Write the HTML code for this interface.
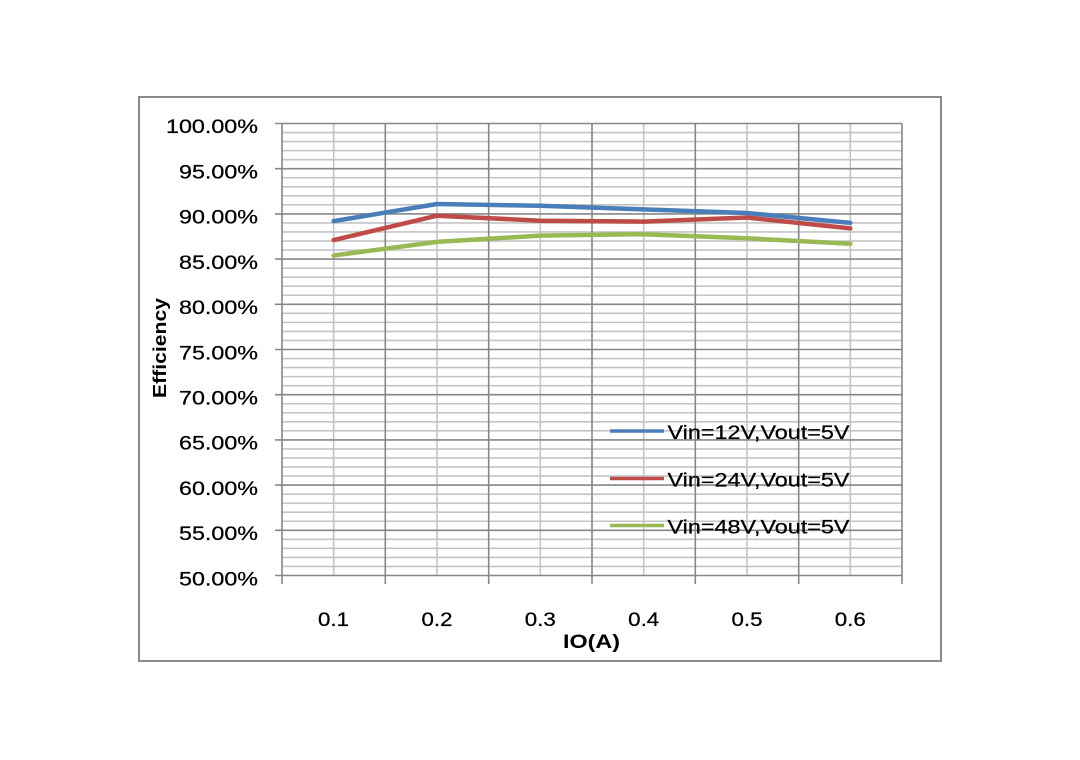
<!DOCTYPE html>
<html><head><meta charset="utf-8"><style>
html,body{margin:0;padding:0;background:#fff;}
svg{display:block;}
text{font-family:"Liberation Sans",Arial,sans-serif;fill:#000;}
</style></head><body>
<svg width="1080" height="760" viewBox="0 0 1080 760" xmlns="http://www.w3.org/2000/svg">
<rect x="0" y="0" width="1080" height="760" fill="#fff"/>
<rect x="139" y="97" width="802" height="564" fill="#fff" stroke="#8a8a8a" stroke-width="2"/>
<g id="grid">
<g stroke="#c4c4c4" stroke-width="1.6">
<line x1="282" x2="902" y1="566.46" y2="566.46"/><line x1="282" x2="902" y1="557.42" y2="557.42"/><line x1="282" x2="902" y1="548.38" y2="548.38"/><line x1="282" x2="902" y1="539.34" y2="539.34"/>
<line x1="282" x2="902" y1="521.26" y2="521.26"/><line x1="282" x2="902" y1="512.22" y2="512.22"/><line x1="282" x2="902" y1="503.18" y2="503.18"/><line x1="282" x2="902" y1="494.14" y2="494.14"/>
<line x1="282" x2="902" y1="476.06" y2="476.06"/><line x1="282" x2="902" y1="467.02" y2="467.02"/><line x1="282" x2="902" y1="457.98" y2="457.98"/><line x1="282" x2="902" y1="448.94" y2="448.94"/>
<line x1="282" x2="902" y1="430.86" y2="430.86"/><line x1="282" x2="902" y1="421.82" y2="421.82"/><line x1="282" x2="902" y1="412.78" y2="412.78"/><line x1="282" x2="902" y1="403.74" y2="403.74"/>
<line x1="282" x2="902" y1="385.66" y2="385.66"/><line x1="282" x2="902" y1="376.62" y2="376.62"/><line x1="282" x2="902" y1="367.58" y2="367.58"/><line x1="282" x2="902" y1="358.54" y2="358.54"/>
<line x1="282" x2="902" y1="340.46" y2="340.46"/><line x1="282" x2="902" y1="331.42" y2="331.42"/><line x1="282" x2="902" y1="322.38" y2="322.38"/><line x1="282" x2="902" y1="313.34" y2="313.34"/>
<line x1="282" x2="902" y1="295.26" y2="295.26"/><line x1="282" x2="902" y1="286.22" y2="286.22"/><line x1="282" x2="902" y1="277.18" y2="277.18"/><line x1="282" x2="902" y1="268.14" y2="268.14"/>
<line x1="282" x2="902" y1="250.06" y2="250.06"/><line x1="282" x2="902" y1="241.02" y2="241.02"/><line x1="282" x2="902" y1="231.98" y2="231.98"/><line x1="282" x2="902" y1="222.94" y2="222.94"/>
<line x1="282" x2="902" y1="204.86" y2="204.86"/><line x1="282" x2="902" y1="195.82" y2="195.82"/><line x1="282" x2="902" y1="186.78" y2="186.78"/><line x1="282" x2="902" y1="177.74" y2="177.74"/>
<line x1="282" x2="902" y1="159.66" y2="159.66"/><line x1="282" x2="902" y1="150.62" y2="150.62"/><line x1="282" x2="902" y1="141.58" y2="141.58"/><line x1="282" x2="902" y1="132.54" y2="132.54"/>
</g>
<g stroke="#c4c4c4" stroke-width="1.6">
<line x1="333.7" x2="333.7" y1="123.5" y2="575.5"/><line x1="437" x2="437" y1="123.5" y2="575.5"/><line x1="540.3" x2="540.3" y1="123.5" y2="575.5"/><line x1="643.7" x2="643.7" y1="123.5" y2="575.5"/><line x1="747" x2="747" y1="123.5" y2="575.5"/><line x1="850.3" x2="850.3" y1="123.5" y2="575.5"/>
</g>
<g stroke="#878787" stroke-width="1.6">
<line x1="275" x2="902" y1="575.5" y2="575.5"/><line x1="275" x2="902" y1="530.3" y2="530.3"/><line x1="275" x2="902" y1="485.1" y2="485.1"/><line x1="275" x2="902" y1="439.9" y2="439.9"/><line x1="275" x2="902" y1="394.7" y2="394.7"/><line x1="275" x2="902" y1="349.5" y2="349.5"/><line x1="275" x2="902" y1="304.3" y2="304.3"/><line x1="275" x2="902" y1="259.1" y2="259.1"/><line x1="275" x2="902" y1="213.9" y2="213.9"/><line x1="275" x2="902" y1="168.7" y2="168.7"/><line x1="275" x2="902" y1="123.5" y2="123.5"/>
</g>
<g stroke="#878787" stroke-width="1.6">
<line x1="282" x2="282" y1="123.5" y2="584"/><line x1="385.3" x2="385.3" y1="123.5" y2="584"/><line x1="488.7" x2="488.7" y1="123.5" y2="584"/><line x1="592" x2="592" y1="123.5" y2="584"/><line x1="695.3" x2="695.3" y1="123.5" y2="584"/><line x1="798.7" x2="798.7" y1="123.5" y2="584"/><line x1="902" x2="902" y1="123.5" y2="584"/>
</g>
</g>
<g fill="none" stroke-width="4.5" stroke-linejoin="round" stroke-linecap="round">
<polyline stroke="#98B954" points="333.7,255.5 437,241.9 540.3,235.6 643.7,234.2 747,238.3 850.3,243.7"/>
<polyline stroke="#BE4B48" points="333.7,240.1 437,215.7 540.3,220.7 643.7,221.6 747,217.5 850.3,228.4"/>
<polyline stroke="#4A7EBB" points="333.7,221.1 437,204.0 540.3,205.8 643.7,209.4 747,213.0 850.3,222.9"/>
</g>
<g font-size="19" stroke="#000" stroke-width="0.25">
<text x="166" y="133" textLength="92" lengthAdjust="spacingAndGlyphs">100.00%</text>
<text x="179" y="178.5" textLength="79" lengthAdjust="spacingAndGlyphs">95.00%</text>
<text x="179" y="223.7" textLength="79" lengthAdjust="spacingAndGlyphs">90.00%</text>
<text x="179" y="268.9" textLength="79" lengthAdjust="spacingAndGlyphs">85.00%</text>
<text x="179" y="314.1" textLength="79" lengthAdjust="spacingAndGlyphs">80.00%</text>
<text x="179" y="359.3" textLength="79" lengthAdjust="spacingAndGlyphs">75.00%</text>
<text x="179" y="404.5" textLength="79" lengthAdjust="spacingAndGlyphs">70.00%</text>
<text x="179" y="449.7" textLength="79" lengthAdjust="spacingAndGlyphs">65.00%</text>
<text x="179" y="494.9" textLength="79" lengthAdjust="spacingAndGlyphs">60.00%</text>
<text x="179" y="540.1" textLength="79" lengthAdjust="spacingAndGlyphs">55.00%</text>
<text x="179" y="585.3" textLength="79" lengthAdjust="spacingAndGlyphs">50.00%</text>
</g>
<g font-size="19" stroke="#000" stroke-width="0.25">
<text x="318" y="626" textLength="31" lengthAdjust="spacingAndGlyphs">0.1</text>
<text x="421.5" y="626" textLength="31" lengthAdjust="spacingAndGlyphs">0.2</text>
<text x="524.8" y="626" textLength="31" lengthAdjust="spacingAndGlyphs">0.3</text>
<text x="628.2" y="626" textLength="31" lengthAdjust="spacingAndGlyphs">0.4</text>
<text x="731.5" y="626" textLength="31" lengthAdjust="spacingAndGlyphs">0.5</text>
<text x="834.8" y="626" textLength="31" lengthAdjust="spacingAndGlyphs">0.6</text>
</g>
<text x="563" y="648" font-size="19" font-weight="bold" textLength="57" lengthAdjust="spacingAndGlyphs">IO(A)</text>
<text transform="translate(166,398) rotate(-90)" x="0" y="0" font-size="18" font-weight="bold" textLength="100" lengthAdjust="spacingAndGlyphs">Efficiency</text>
<g stroke-width="3.5">
<line x1="610" x2="664" y1="431" y2="431" stroke="#4A7EBB"/>
<line x1="610" x2="664" y1="478.5" y2="478.5" stroke="#BE4B48"/>
<line x1="610" x2="664" y1="525.5" y2="525.5" stroke="#98B954"/>
</g>
<g font-size="19" stroke="#000" stroke-width="0.25">
<text x="667.5" y="439" textLength="182" lengthAdjust="spacingAndGlyphs">Vin=12V,Vout=5V</text>
<text x="667.5" y="486.5" textLength="182" lengthAdjust="spacingAndGlyphs">Vin=24V,Vout=5V</text>
<text x="667.5" y="533.5" textLength="182" lengthAdjust="spacingAndGlyphs">Vin=48V,Vout=5V</text>
</g>
</svg>
</body></html>
